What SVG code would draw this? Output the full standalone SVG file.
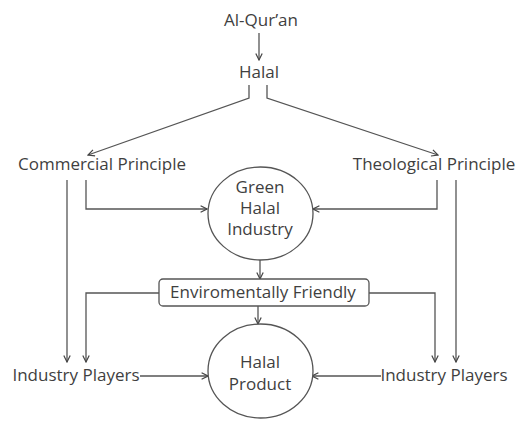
<svg xmlns="http://www.w3.org/2000/svg" width="524" height="422" viewBox="0 0 524 422">
<defs>
<style>
text{font-family:"Open Sans","Noto Sans",sans-serif;font-size:17px;fill:#3f3f3f}
.c{text-anchor:middle}
.ln{fill:none;stroke:#555;stroke-width:1.3;marker-end:url(#ah)}
.shape{fill:#fff;stroke:#555;stroke-width:1.3}
</style>
<marker id="ah" viewBox="0 0 10 10" refX="9" refY="5" markerWidth="8" markerHeight="8" markerUnits="userSpaceOnUse" orient="auto">
<path d="M1,1 L9,5 L1,9" fill="none" stroke="#444" stroke-width="1.5"/>
</marker>
</defs>
<rect width="524" height="422" fill="#fff"/>
<g id="connectors">
<path class="ln" d="M259,33 V60"/>
<path class="ln" d="M249,85 V98 L88,155"/>
<path class="ln" d="M267,85 V98 L438,155"/>
<path class="ln" d="M86,180 V209 H207"/>
<path class="ln" d="M437,180 V209 H313"/>
<path class="ln" d="M67,180 V362"/>
<path class="ln" d="M456,180 V362"/>
<path class="ln" d="M260,260 V279"/>
<path class="ln" d="M159,293 H86 V362"/>
<path class="ln" d="M369,293 H435 V362"/>
<path class="ln" d="M258,306 V324"/>
<path class="ln" d="M140,376 H208"/>
<path class="ln" d="M381,376 H312"/>
</g>
<g id="alquran"><text class="c" x="261" y="26">Al-Qur’an</text></g>
<g id="halal"><text class="c" x="259" y="78">Halal</text></g>
<g id="commercial"><text class="c" x="102" y="170">Commercial Principle</text></g>
<g id="theological"><text class="c" x="434" y="170">Theological Principle</text></g>
<g id="green">
<ellipse class="shape" cx="260.5" cy="213.5" rx="52.5" ry="46.5"/>
<text class="c" x="260" y="193">Green</text>
<text class="c" x="260" y="214">Halal</text>
<text class="c" x="260" y="235">Industry</text>
</g>
<g id="enviro">
<rect class="shape" x="159" y="279" width="210" height="27" rx="4"/>
<text class="c" x="263" y="298">Enviromentally Friendly</text>
</g>
<g id="product">
<ellipse class="shape" cx="260.5" cy="371" rx="52.5" ry="47"/>
<text class="c" x="260" y="368">Halal</text>
<text class="c" x="260" y="390">Product</text>
</g>
<g id="players-left"><text class="c" x="76" y="381">Industry Players</text></g>
<g id="players-right"><text class="c" x="444" y="381">Industry Players</text></g>
</svg>
